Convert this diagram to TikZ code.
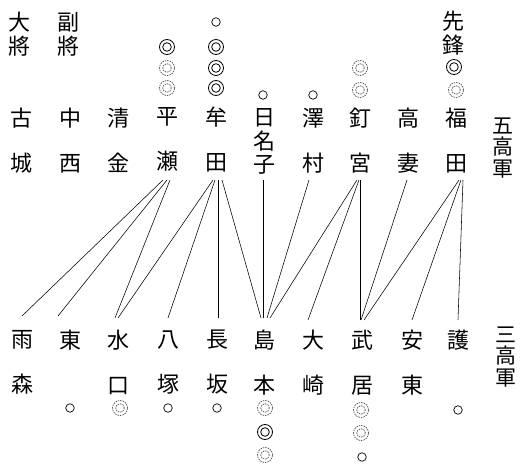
\documentclass[tikz,border=0pt]{standalone}
\usepackage{fontspec}
\setmainfont{Noto Sans CJK JP}
\setlength{\lineskiplimit}{-30pt}
\setlength{\lineskip}{0pt}
\begin{document}
\begin{tikzpicture}[x=1pt,y=-1pt,
  nm/.style={align=center, inner sep=0pt, font=\fontsize{22}{45}\selectfont},
  nm3/.style={nm, font=\fontsize{22}{23.5}\selectfont},
  team/.style={nm, font=\fontsize{21}{21.5}\selectfont},
  role/.style={nm, font=\fontsize{22}{24}\selectfont},
  link/.style={line width=0.55pt, black},
  ring/.style={circle, draw, line width=0.7pt, minimum size=8.5pt, inner sep=0pt},
  dbl/.style={circle, draw, line width=0.8pt, minimum size=15pt, inner sep=0pt,
    path picture={\draw[line width=0.8pt] (path picture bounding box.center) circle (4.3pt);}},
  dblf/.style={circle, draw=black!70, dash pattern=on 1.5pt off 1pt, line width=0.7pt, minimum size=15pt, inner sep=0pt,
    path picture={\draw[black!70, dash pattern=on 1.5pt off 1pt, line width=0.7pt] (path picture bounding box.center) circle (4.3pt);}}
]
\useasboundingbox (0,0) rectangle (520,470);
\fill[white] (0,0) rectangle (520,470);

% roles
\node[role] (taisho) at (20,34) {大\\將};
\node[role] (fukusho) at (68,34) {副\\將};
\node[role] (senpo) at (453,33) {先\\鋒};

% top team names
\node[nm] (t1) at (21,140.5) {古\\城};
\node[nm] (t2) at (70,140.5) {中\\西};
\node[nm] (t3) at (118,140.5) {清\\金};
\node[nm] (t4) at (167,139.5) {平\\瀬};
\node[nm] (t5) at (216,139.5) {牟\\田};
\node[nm3] (t6) at (264,141.5) {日\\名\\子};
\node[nm] (t7) at (313,141) {澤\\村};
\node[nm] (t8) at (360,141) {釘\\宮};
\node[nm] (t9) at (408,141) {高\\妻};
\node[nm] (t10) at (456,141) {福\\田};
\node[team] (teamA) at (503,148) {五\\高\\軍};

% bottom team names
\node[nm] (b1) at (22,362.5) {雨\\森};
\node[nm] (b2) at (70,340) {東};
\node[nm] (b3) at (118,362.5) {水\\口};
\node[nm] (b4) at (168,362.5) {八\\塚};
\node[nm] (b5) at (217,362.5) {長\\坂};
\node[nm] (b6) at (264,362.5) {島\\本};
\node[nm] (b7) at (313,362.5) {大\\崎};
\node[nm] (b8) at (362,362.5) {武\\居};
\node[nm] (b9) at (412,362.5) {安\\東};
\node[nm] (b10) at (458,340) {護};
\node[team] (teamB) at (506,357) {三\\高\\軍};

% marks (top)
\node[dbl] (m1) at (167,47) {};
\node[dblf] (m2) at (167,68) {};
\node[dblf] (m3) at (167,88) {};
\node[ring] (m4) at (216,22) {};
\node[dbl] (m5) at (216,47) {};
\node[dbl] (m6) at (216,68) {};
\node[dbl] (m7) at (216,88) {};
\node[ring] (m8) at (263,95) {};
\node[ring] (m9) at (313,95) {};
\node[dblf] (m10) at (360,68) {};
\node[dblf] (m11) at (360,90) {};
\node[dbl] (m12) at (454,67) {};
\node[dblf] (m13) at (456,90) {};
% marks (bottom)
\node[ring] (m14) at (70,408) {};
\node[dblf] (m15) at (120,408) {};
\node[ring] (m16) at (168,408) {};
\node[ring] (m17) at (217,408) {};
\node[dblf] (m18) at (265,408) {};
\node[dbl] (m19) at (265,432) {};
\node[dblf] (m20) at (265,455) {};
\node[dblf] (m21) at (361,410) {};
\node[dblf] (m22) at (361,433) {};
\node[ring] (m23) at (362,457) {};
\node[ring] (m24) at (458,410) {};

% connection points
\coordinate (t4s) at (167,180);
\coordinate (t5s) at (217,180);
\coordinate (t6s) at (263,180);
\coordinate (t7s) at (309,180);
\coordinate (t8s) at (359,180);
\coordinate (t9s) at (407,180);
\coordinate (t10s) at (461,180);
\coordinate (b1n) at (22,316);
\coordinate (b2n) at (58,316);
\coordinate (b3n) at (117,318);
\coordinate (b4n) at (168,318);
\coordinate (b5n) at (217,318);
\coordinate (b6n) at (265,318);
\coordinate (b7n) at (308,320);
\coordinate (b8n) at (361,320);
\coordinate (b9n) at (412,320);
\coordinate (b10n) at (458,320);

% connectors
\draw[link] ([xshift=-4pt]t4s) -- (b1n);
\draw[link] (t4s) -- (b2n);
\draw[link] ([xshift=3pt]t4s) -- ([xshift=-2pt]b3n);
\draw[link] ([xshift=-4pt]t5s) -- ([xshift=1pt]b3n);
\draw[link] ([xshift=-2pt]t5s) -- (b4n);
\draw[link] ([xshift=1pt]t5s) -- ([xshift=1pt]b5n);
\draw[link] ([xshift=5pt]t5s) -- ([xshift=-4pt]b6n);
\draw[link] (t6s) -- ([xshift=-2pt]b6n);
\draw[link] (t7s) -- ([xshift=2pt]b6n);
\draw[link] ([xshift=-2pt]t8s) -- ([xshift=5pt]b6n);
\draw[link] (t8s) -- (b7n);
\draw[link] ([xshift=1pt]t8s) -- ([xshift=-1pt]b8n);
\draw[link] (t9s) -- (b8n);
\draw[link] ([xshift=-2pt]t10s) -- ([xshift=3pt]b8n);
\draw[link] (t10s) -- (b9n);
\draw[link] ([xshift=2pt]t10s) -- (b10n);
\end{tikzpicture}
\end{document}
